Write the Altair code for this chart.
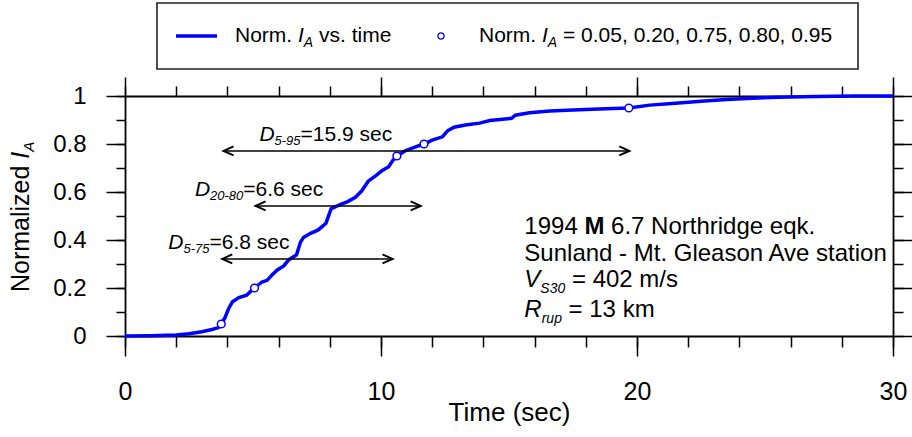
import altair as alt
import pandas as pd

FONT = "Liberation Sans"
BLUE = "#0000ff"

# ---- data ----
time_s = [0, 1.0, 2.0, 2.5, 3.0, 3.4, 3.65, 3.76, 3.9, 4.05,
          4.2, 4.45, 4.75, 4.9, 5.06, 5.35, 5.55, 5.75, 5.95, 6.2,
          6.4, 6.7, 6.85, 6.97, 7.25, 7.55, 7.85, 8.05, 8.35, 8.7,
          9.0, 9.25, 9.5, 9.8, 10.05, 10.3, 10.45, 10.62, 10.95, 11.35,
          11.68, 12.0, 12.4, 12.6, 12.85, 13.3, 13.85, 14.25, 14.75, 15.1,
          15.25, 15.8, 16.6, 17.5, 18.5, 19.68, 20.5, 21.5, 22.5, 23.5,
          24.5, 25.5, 27.0, 28.5, 30.0]
norm_ia = [0, 0.001, 0.004, 0.009, 0.018, 0.027, 0.035, 0.05, 0.075, 0.115,
           0.143, 0.16, 0.17, 0.185, 0.2, 0.225, 0.232, 0.255, 0.275, 0.292,
           0.318, 0.338, 0.39, 0.41, 0.428, 0.442, 0.47, 0.53, 0.545, 0.56,
           0.578, 0.605, 0.645, 0.668, 0.69, 0.705, 0.73, 0.75, 0.772, 0.788,
           0.8, 0.816, 0.83, 0.855, 0.87, 0.879, 0.887, 0.898, 0.903, 0.907,
           0.92, 0.93, 0.937, 0.942, 0.946, 0.95, 0.962, 0.97, 0.978, 0.985,
           0.991, 0.995, 0.998, 1.0, 1.0]

mark_t = [3.76, 5.06, 10.62, 11.68, 19.68]
mark_ia = [0.05, 0.20, 0.75, 0.80, 0.95]

arrow_y = [0.771, 0.542, 0.321]
arrow_x1 = [3.85, 5.1, 3.8]
arrow_x2 = [19.7, 11.55, 10.45]
dur_sub = ["5-95", "20-80", "5-75"]
dur_val = ["=15.9 sec", "=6.6 sec", "=6.8 sec"]
dur_label_x = [5.25, 2.73, 1.69]

x_major = [0, 10, 20, 30]
x_minor = [0, 2, 4, 6, 8, 10, 12, 14, 16, 18, 20, 22, 24, 26, 28, 30]
y_major = [0, 0.2, 0.4, 0.6, 0.8, 1]
y_minor = [0, 0.1, 0.2, 0.3, 0.4, 0.5, 0.6, 0.7, 0.8, 0.9, 1]

info_lines = [
    [("1994 ", "normal", "normal", 0), ("M", "normal", "bold", 0), (" 6.7 Northridge eqk.", "normal", "normal", 0)],
    [("Sunland - Mt. Gleason Ave station", "normal", "normal", 0)],
    [("V", "italic", "normal", 0), ("S30", "italic", "normal", 1), (" = 402 m/s", "normal", "normal", 0)],
    [("R", "italic", "normal", 0), ("rup", "italic", "normal", 1), (" = 13 km", "normal", "normal", 0)],
]
info_x = 15.6
info_y = 0.425

# ---- helpers ----
WID = {' ': 278, '-': 333, '.': 278, ',': 278, '=': 584, '(': 333, ')': 333, '/': 278,
       'A': 667, 'D': 722, 'I': 278, 'M': 833, 'N': 722, 'R': 722, 'S': 667, 'V': 667,
       'G': 778, 'T': 611, 'a': 556, 'c': 500, 'd': 556, 'e': 556, 'g': 556, 'h': 556,
       'i': 222, 'k': 500, 'l': 222, 'm': 833, 'n': 556, 'o': 556, 'p': 556, 'q': 556,
       'r': 333, 's': 500, 't': 278, 'u': 556, 'v': 500, 'z': 500}


def tw(s, size):
    return sum(WID.get(c, 556) for c in s) * size / 1000.0


xs = alt.Scale(domain=[0, 30], nice=False, zero=False)
ys = alt.Scale(domain=[0, 1], nice=False)
one = pd.DataFrame({"k": [0]})


def text_px(x, y, text, size, dx, dy, style="normal", weight="normal", angle=0):
    return alt.Chart(one).mark_text(
        text=text, font=FONT, fontSize=size, fontStyle=style, fontWeight=weight,
        align="left", baseline="alphabetic", dx=dx, dy=dy, angle=angle, color="black"
    ).encode(x=alt.value(x), y=alt.value(y))


def text_data(xv, yv, text, size, dx, dy, style="normal", weight="normal"):
    return alt.Chart(pd.DataFrame({"x": [xv], "y": [yv]})).mark_text(
        text=text, font=FONT, fontSize=size, fontStyle=style, fontWeight=weight,
        align="left", baseline="alphabetic", dx=dx, dy=dy, color="black"
    ).encode(x=alt.X("x:Q", scale=xs, axis=None), y=alt.Y("y:Q", scale=ys, axis=None))


def rich(maker, pieces, base_dy=0):
    """Lay out text pieces one after the other; leading spaces become offsets
    because SVG collapses them."""
    out = []
    cx = 0.0
    for text, size, style, weight, sdy in pieces:
        stripped = text.lstrip(" ")
        cx += tw(text[:len(text) - len(stripped)], size)
        out.append(maker(stripped, size, round(cx, 2), base_dy + sdy, style, weight))
        cx += tw(stripped, size)
    return out


def axis(orient, values, size, labels=False, domain=False, **kw):
    return alt.Axis(orient=orient, values=values, tickSize=size, labels=labels,
                    domain=domain, grid=False, ticks=True, tickColor="black",
                    tickWidth=1.5, domainColor="black", domainWidth=1.8, **kw)


# ---- data layers ----
df_curve = pd.DataFrame({"t": time_s, "ia": norm_ia})
curve = alt.Chart(df_curve).mark_line(color=BLUE, strokeWidth=3.5).encode(
    x=alt.X("t:Q", scale=xs, title="Time (sec)",
            axis=axis("bottom", x_major, 20, labels=True, domain=True,
                      labelFont=FONT, labelFontSize=25, labelColor="black",
                      labelPadding=23, labelFlush=False, labelOverlap=False, format="d",
                      titleFont=FONT, titleFontSize=26, titleFontWeight="normal",
                      titleColor="black", titleBaseline="alphabetic", titleY=84)),
    y=alt.Y("ia:Q", scale=ys, title=None,
            axis=axis("left", y_major, 19, labels=True, domain=True,
                      labelFont=FONT, labelFontSize=24, labelColor="black",
                      labelPadding=20, labelFlush=False, labelOverlap=False, format="~g")),
)

df_mark = pd.DataFrame({"t": mark_t, "ia": mark_ia})
markers = alt.Chart(df_mark).mark_point(
    shape="circle", fill="white", fillOpacity=1, stroke=BLUE, strokeWidth=1.5,
    size=60, opacity=1
).encode(
    x=alt.X("t:Q", scale=xs, title=None, axis=axis("bottom", x_minor, 11)),
    y=alt.Y("ia:Q", scale=ys, title=None, axis=axis("left", y_minor, 9)),
)

df_arrow = pd.DataFrame({"x1": arrow_x1, "x2": arrow_x2, "y": arrow_y})
shafts = alt.Chart(df_arrow).mark_rule(color="black", strokeWidth=1.5).encode(
    x=alt.X("x1:Q", scale=xs, title=None, axis=axis("top", x_major, 19, domain=True)),
    x2="x2:Q",
    y=alt.Y("y:Q", scale=ys, title=None, axis=axis("right", y_major, 19, domain=True)),
)
heads_l = alt.Chart(df_arrow).mark_point(
    shape="M 1 -0.45 L 0 0 L 1 0.45", size=400, filled=False,
    stroke="black", strokeWidth=2, opacity=1
).encode(
    x=alt.X("x1:Q", scale=xs, title=None, axis=axis("top", x_minor, 10)),
    y=alt.Y("y:Q", scale=ys, title=None, axis=axis("right", y_minor, 10)),
)
heads_r = alt.Chart(df_arrow).mark_point(
    shape="M -1 -0.45 L 0 0 L -1 0.45", size=400, filled=False,
    stroke="black", strokeWidth=2, opacity=1
).encode(
    x=alt.X("x2:Q", scale=xs, axis=None),
    y=alt.Y("y:Q", scale=ys, axis=None),
)

layers = [curve, shafts, heads_l, heads_r, markers]

# duration labels
for i in range(3):
    mk = (lambda xv, yv: (lambda text, size, dx, dy, style, weight:
                          text_data(xv, yv, text, size, dx, dy, style, weight)))(dur_label_x[i], arrow_y[i])
    layers += rich(mk, [("D", 21, "italic", "normal", 0),
                        (dur_sub[i], 13, "italic", "normal", 4),
                        (dur_val[i], 21, "normal", "normal", 0)], base_dy=-10)

# info block
line_dy = [0, 26.7, 53.3, 83]
for li, line in enumerate(info_lines):
    pieces = []
    for text, style, weight, sub in line:
        pieces.append((text, 14 if sub else 24, style, weight, 6 if sub else 0))
    mk = lambda text, size, dx, dy, style, weight: text_data(info_x, info_y, text, size, dx, dy, style, weight)
    layers += rich(mk, pieces, base_dy=line_dy[li])

# y title (rotated)
mk_y = lambda text, size, dx, dy, style, weight: text_px(-96.5, 196, text, size, dx, dy, style, weight, angle=270)
layers += rich(mk_y, [("Normalized ", 25, "normal", "normal", 0),
                      ("I", 25, "italic", "normal", 0),
                      ("A", 15, "italic", "normal", 5)])

# legend
legend_box = alt.Chart(one).mark_rect(fillOpacity=0, stroke="#222222", strokeWidth=1.6).encode(
    x=alt.value(32), x2=alt.value(733), y=alt.value(-93), y2=alt.value(-27))
legend_line = alt.Chart(one).mark_rule(color=BLUE, strokeWidth=3.5).encode(
    x=alt.value(51), x2=alt.value(92), y=alt.value(-60))
legend_pt = alt.Chart(one).mark_point(shape="circle", fill="white", fillOpacity=1, stroke=BLUE,
                                      strokeWidth=1.3, size=38, opacity=1).encode(
    x=alt.value(316), y=alt.value(-60))
layers += [legend_box, legend_line, legend_pt]
mk_l1 = lambda text, size, dx, dy, style, weight: text_px(110, -54, text, size, dx, dy, style, weight)
layers += rich(mk_l1, [("Norm. ", 21, "normal", "normal", 0), ("I", 21, "italic", "normal", 0),
                       ("A", 14, "italic", "normal", 5), (" vs. time", 21, "normal", "normal", 0)])
mk_l2 = lambda text, size, dx, dy, style, weight: text_px(354, -54, text, size, dx, dy, style, weight)
layers += rich(mk_l2, [("Norm. ", 21, "normal", "normal", 0), ("I", 21, "italic", "normal", 0),
                       ("A", 14, "italic", "normal", 5),
                       (" = 0.05, 0.20, 0.75, 0.80, 0.95", 21, "normal", "normal", 0)])

chart = alt.layer(*layers).resolve_axis(x="independent", y="independent").properties(
    width=768, height=240,
    padding={"left": 125, "top": 96, "right": 19, "bottom": 101},
    autosize=alt.AutoSizeParams(type="none"),
).configure_view(strokeWidth=0)

chart.save("out.html", embed_options={"renderer": "svg", "actions": False})
